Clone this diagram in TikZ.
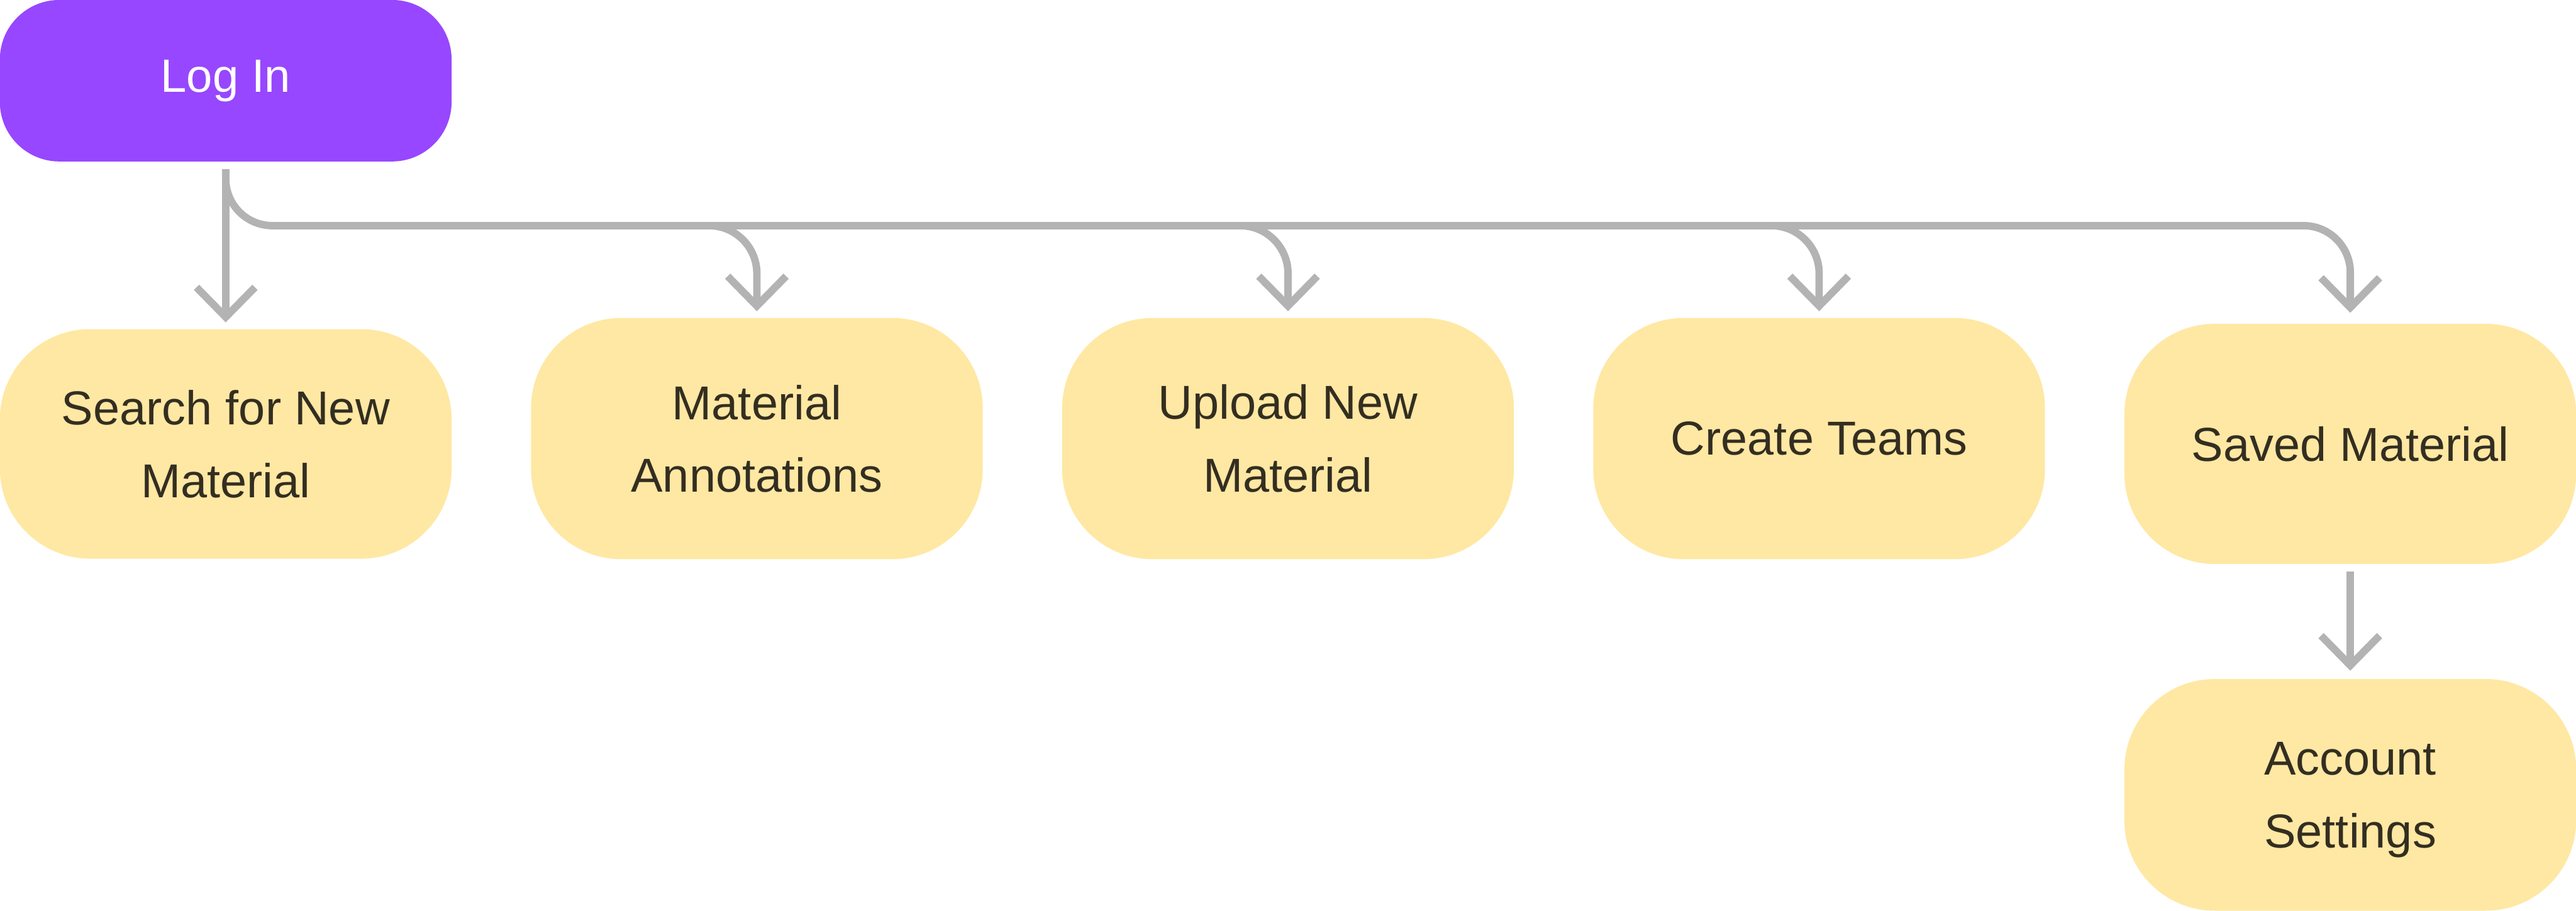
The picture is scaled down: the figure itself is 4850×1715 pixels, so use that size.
\documentclass[tikz,border=0pt]{standalone}
\usepackage{fontspec}
\setmainfont{Liberation Sans}
\usetikzlibrary{arrows.meta,calc}
\definecolor{purp}{HTML}{9747FF}
\definecolor{yel}{HTML}{FFE8A3}
\definecolor{lnk}{HTML}{B3B3B3}
\definecolor{txt}{HTML}{332E21}
\tikzset{
  ybox/.style={fill=yel, draw=none, rounded corners=1.7cm, minimum width=8.5cm,
    inner sep=0pt, align=center, text=txt, font=\fontsize{25.5}{39}\selectfont},
  pbox/.style={fill=purp, draw=none, rounded corners=1.12cm, minimum width=8.5cm,
    minimum height=3.04cm, inner sep=0pt, align=center, text=white,
    font=\fontsize{25}{36}\selectfont},
  link/.style={draw=lnk, line width=0.14cm, line cap=butt,
    -{Straight Barb[length=0.56cm, width=1.1cm, line join=miter]}}
}
\begin{document}
\begin{tikzpicture}[x=0.01cm, y=-0.01cm]
\useasboundingbox (0,0) rectangle (4850,1715);
\node[pbox] (login) at (425,152) {Log In};
\node[ybox, minimum height=4.32cm] (search) at (425,836) {Search for New\\Material};
\node[ybox, minimum height=4.54cm, text depth=0pt] (annot) at (1425,826) {Material\\Annotations};
\node[ybox, minimum height=4.54cm] (upload) at (2425,826) {Upload New\\Material};
\node[ybox, minimum height=4.54cm] (teams) at (3425,826) {Create Teams};
\node[ybox, minimum height=4.52cm] (saved) at (4425,836) {Saved Material};
\node[ybox, minimum height=4.36cm, text depth=0pt] (account) at (4425,1497) {Account\\Settings};
\coordinate (bus) at (0,425);
% main vertical
\draw[link] ([yshift=-0.14cm]login.south) -- ([yshift=0.12cm]search.north);
% trunk to the last column
\draw[link, rounded corners=0.88cm] ([yshift=-0.26cm]login.south) |- (bus -| saved.north) -- ([yshift=0.2cm]saved.north);
% middle branches
\draw[link, rounded corners=0.9cm] ($(bus -| annot.north)+(-120,0)$) -| ([yshift=0.12cm]annot.north);
\draw[link, rounded corners=0.9cm] ($(bus -| upload.north)+(-120,0)$) -| ([yshift=0.12cm]upload.north);
\draw[link, rounded corners=0.9cm] ($(bus -| teams.north)+(-120,0)$) -| ([yshift=0.12cm]teams.north);
% saved to account
\draw[link] ([yshift=-0.14cm]saved.south) -- ([yshift=0.15cm]account.north);
\end{tikzpicture}
\end{document}
